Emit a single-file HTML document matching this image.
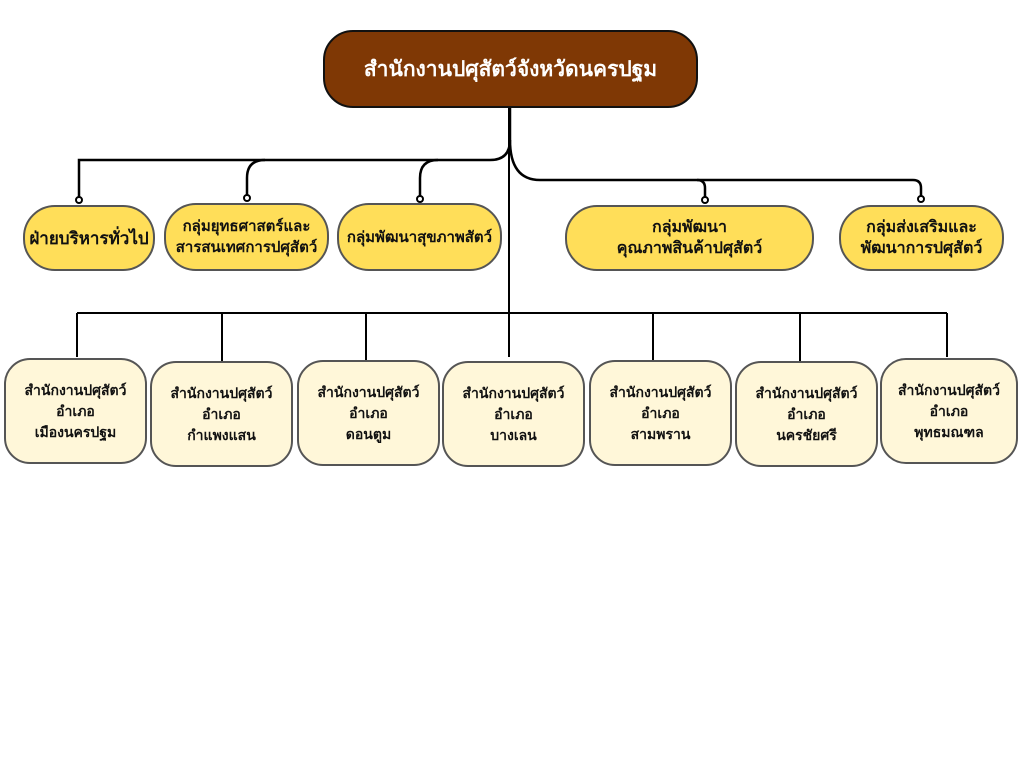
<!DOCTYPE html>
<html><head><meta charset="utf-8"><style>
body{margin:0;width:1024px;height:768px;background:#fff;position:relative;overflow:hidden;font-family:"Liberation Sans","DejaVu Sans",sans-serif;}
.n{position:absolute;box-sizing:border-box;display:flex;align-items:center;justify-content:center;text-align:center;font-weight:bold;color:#111;}
.y{background:#ffde59;border:2px solid #555;border-radius:32px;font-size:15px;line-height:21px;}
.c{background:#fff7d9;border:2px solid #555;border-radius:26px;font-size:14px;line-height:21px;}
svg{position:absolute;left:0;top:0}
</style></head><body>
<svg width="1024" height="768" fill="none" stroke="#000" stroke-width="2.5">
<path d="M510 105 V140 Q510 160 490 160 H79 V198"/>
<path d="M265 160 Q247 160 247 178 V196"/>
<path d="M438 160 Q420 160 420 178 V198"/>
<path d="M510 140 Q510 180 540 180 H697 Q705 180 705 188 V199"/>
<path d="M697 180 H913 Q921 180 921 188 V198"/>
<path d="M509 105 V357" stroke-width="2"/>
<path d="M77 313 H947 M77 313 V357 M222 313 V362 M366 313 V360 M653 313 V360 M800 313 V362 M947 313 V357" stroke-width="2"/>
<g fill="#fff" stroke-width="2"><circle cx="79" cy="200" r="3"/><circle cx="247" cy="198" r="3"/><circle cx="420" cy="199" r="3"/><circle cx="705" cy="200" r="3"/><circle cx="921" cy="199" r="3"/></g>
</svg>
<div class="n" style="left:323px;top:30px;width:375px;height:78px;background:#7f3805;border:2px solid #111;border-radius:30px;color:#fff;font-size:21px;">สำนักงานปศุสัตว์จังหวัดนครปฐม</div>
<div class="n y" style="left:23px;top:205px;width:132px;height:66px;font-size:17px">ฝ่ายบริหารทั่วไป</div>
<div class="n y" style="left:164px;top:203px;width:165px;height:68px">กลุ่มยุทธศาสตร์และ<br>สารสนเทศการปศุสัตว์</div>
<div class="n y" style="left:337px;top:203px;width:165px;height:68px">กลุ่มพัฒนาสุขภาพสัตว์</div>
<div class="n y" style="left:565px;top:205px;width:249px;height:66px;font-size:16px">กลุ่มพัฒนา<br>คุณภาพสินค้าปศุสัตว์</div>
<div class="n y" style="left:839px;top:205px;width:165px;height:66px;font-size:16px">กลุ่มส่งเสริมและ<br>พัฒนาการปศุสัตว์</div>
<div class="n c" style="left:4px;top:358px;width:143px;height:106px">สำนักงานปศุสัตว์<br>อำเภอ<br>เมืองนครปฐม</div>
<div class="n c" style="left:150px;top:361px;width:143px;height:106px">สำนักงานปศุสัตว์<br>อำเภอ<br>กำแพงแสน</div>
<div class="n c" style="left:297px;top:360px;width:143px;height:106px">สำนักงานปศุสัตว์<br>อำเภอ<br>ดอนตูม</div>
<div class="n c" style="left:442px;top:361px;width:143px;height:106px">สำนักงานปศุสัตว์<br>อำเภอ<br>บางเลน</div>
<div class="n c" style="left:589px;top:360px;width:143px;height:106px">สำนักงานปศุสัตว์<br>อำเภอ<br>สามพราน</div>
<div class="n c" style="left:735px;top:361px;width:143px;height:106px">สำนักงานปศุสัตว์<br>อำเภอ<br>นครชัยศรี</div>
<div class="n c" style="left:880px;top:358px;width:138px;height:106px">สำนักงานปศุสัตว์<br>อำเภอ<br>พุทธมณฑล</div>
</body></html>
